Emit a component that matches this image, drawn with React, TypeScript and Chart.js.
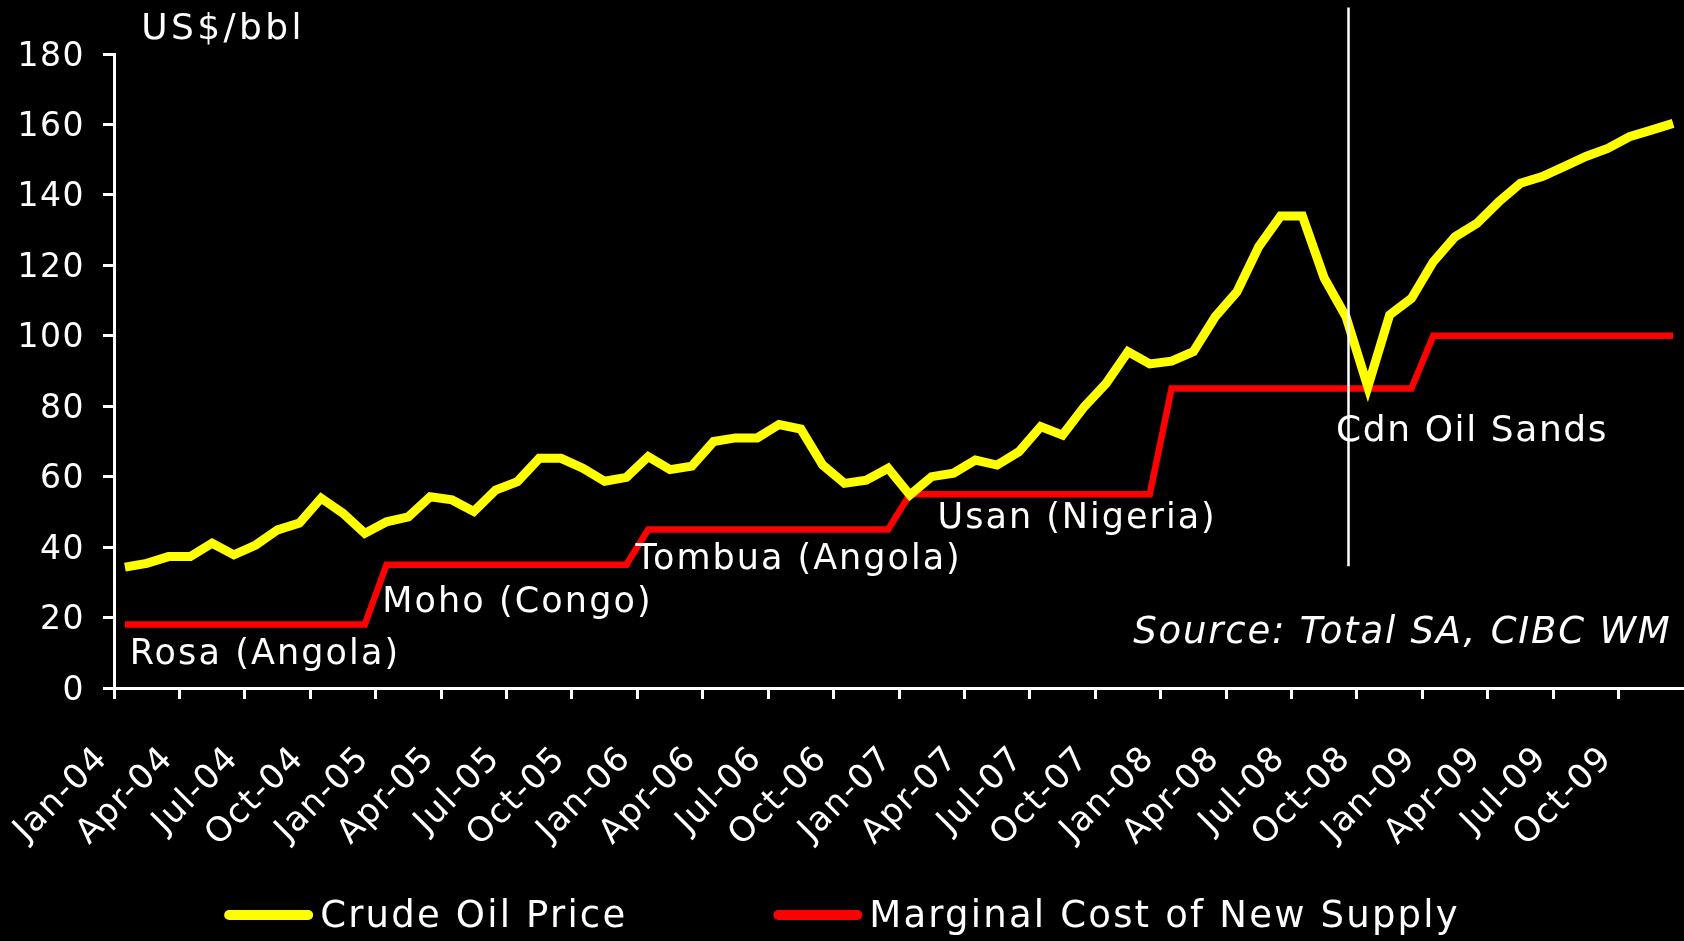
import React, { useEffect, useRef } from 'react';
import { Chart, registerables } from 'chart.js';

Chart.register(...registerables);

// ---- data ----
const years = ['04', '05', '06', '07', '08', '09'];
const monthNames = ['Jan', 'Feb', 'Mar', 'Apr', 'May', 'Jun', 'Jul', 'Aug', 'Sep', 'Oct', 'Nov', 'Dec'];
const months: string[] = years.flatMap((y) => monthNames.map((m) => `${m}-${y}`));
const labeledMonths = ['Jan', 'Apr', 'Jul', 'Oct'];

const crudeOilPrice = [
  34.3, 35.4, 37.3, 37.3, 41.1, 37.8, 40.6, 44.9, 46.8, 53.9, 49.6, 43.9,
  47.2, 48.6, 54.3, 53.4, 50.1, 56.2, 58.6, 65.2, 65.2, 62.4, 58.7, 59.8,
  65.7, 62.0, 63.0, 70.0, 71.0, 71.0, 74.8, 73.5, 63.3, 58.1, 59.0, 62.4,
  54.8, 60.0, 61.0, 64.7, 63.3, 67.1, 74.2, 71.8, 79.9, 86.5, 95.5, 92.0,
  92.8, 95.5, 105.4, 112.5, 125.3, 134.0, 134.0, 116.4, 105.4, 85.5, 105.9, 110.6,
  121.0, 128.1, 131.9, 138.0, 143.3, 145.2, 148.0, 150.9, 153.2, 156.5, 158.4, 160.3,
];

const marginalCost = [
  18, 18, 18, 18, 18, 18, 18, 18, 18, 18, 18, 18,
  35, 35, 35, 35, 35, 35, 35, 35, 35, 35, 35, 35,
  45, 45, 45, 45, 45, 45, 45, 45, 45, 45, 45, 45,
  55, 55, 55, 55, 55, 55, 55, 55, 55, 55, 55, 55,
  85, 85, 85, 85, 85, 85, 85, 85, 85, 85, 85, 85,
  100, 100, 100, 100, 100, 100, 100, 100, 100, 100, 100, 100,
];

const yMin = 0;
const yMax = 180;
const yStep = 20;

// ---- annotations anchored to data coordinates (month index, value) ----
type Note = { text: string; at: number; value: number; size: number; spacing: number; align: 'left' | 'right'; italic?: boolean };
const notes: Note[] = [
  { text: 'US$/bbl', at: 0.75, value: 187.0, size: 36, spacing: 3.4, align: 'left' },
  { text: 'Rosa (Angola)', at: 0.22, value: 9.3, size: 35, spacing: 2.1, align: 'left' },
  { text: 'Moho (Congo)', at: 11.8, value: 24.3, size: 35, spacing: 2.1, align: 'left' },
  { text: 'Tombua (Angola)', at: 23.42, value: 36.5, size: 35, spacing: 2.0, align: 'left' },
  { text: 'Usan (Nigeria)', at: 37.27, value: 48.1, size: 35, spacing: 2.0, align: 'left' },
  { text: 'Cdn Oil Sands', at: 55.54, value: 72.8, size: 36, spacing: 1.6, align: 'left' },
  { text: 'Source: Total SA, CIBC WM', at: 70.93, value: 15.4, size: 37, spacing: 1.8, align: 'right', italic: true },
];
const divider = { at: 56.1, from: 34.6, to: 193.2 };

const FONT = '"DejaVu Sans", "Liberation Sans", sans-serif';

const overlayPlugin = {
  id: 'overlay',
  beforeUpdate(chart: any) {
    chart.ctx.letterSpacing = '1.5px';
  },
  beforeDraw(chart: any) {
    chart.ctx.letterSpacing = '1.5px';
  },
  afterDraw(chart: any) {
    const { ctx, scales } = chart;
    const x = scales.x;
    const y = scales.y;
    ctx.save();

    // vertical divider line
    const dx = Math.round(x.getPixelForValue(divider.at)) + 0.5;
    ctx.strokeStyle = '#ffffff';
    ctx.lineWidth = 2.5;
    ctx.beginPath();
    ctx.moveTo(dx, y.getPixelForValue(divider.to));
    ctx.lineTo(dx, y.getPixelForValue(divider.from));
    ctx.stroke();

    // annotation texts
    ctx.fillStyle = '#ffffff';
    ctx.textBaseline = 'middle';
    for (const n of notes) {
      ctx.font = `${n.italic ? 'italic ' : ''}${n.size}px ${FONT}`;
      ctx.letterSpacing = `${n.spacing}px`;
      ctx.textAlign = n.align;
      ctx.fillText(n.text, x.getPixelForValue(n.at), y.getPixelForValue(n.value));
    }

    // legend (custom, bottom centered)
    const items = chart.data.datasets.map((d: any) => ({ label: d.label, color: d.borderColor }));
    const swatchW = 89;
    const swatchGap = 7;
    const itemGap = 146;
    const legendY = 917;
    ctx.font = `37px ${FONT}`;
    ctx.letterSpacing = '2.2px';
    ctx.textAlign = 'left';
    const widths = items.map((it: any) => ctx.measureText(it.label).width);
    const total = widths.reduce((a: number, b: number) => a + b, 0) + items.length * (swatchW + swatchGap) + (items.length - 1) * itemGap;
    let cx = (chart.width - total) / 2;
    items.forEach((it: any, i: number) => {
      ctx.strokeStyle = it.color;
      ctx.lineWidth = 10;
      ctx.lineCap = 'round';
      ctx.beginPath();
      ctx.moveTo(cx + 5, legendY - 2);
      ctx.lineTo(cx + swatchW - 5, legendY - 2);
      ctx.stroke();
      cx += swatchW + swatchGap;
      ctx.fillStyle = '#ffffff';
      ctx.fillText(it.label, cx, legendY);
      cx += widths[i] + itemGap;
    });

    ctx.restore();
  },
};

export default function App() {
  const canvasRef = useRef<HTMLCanvasElement>(null);

  useEffect(() => {
    document.body.style.background = '#000';
    const canvas = canvasRef.current;
    if (!canvas) return;
    const chart = new Chart(canvas, {
      type: 'line',
      data: {
        labels: months,
        datasets: [
          {
            label: 'Crude Oil Price',
            data: crudeOilPrice,
            borderColor: '#ffff00',
            backgroundColor: '#ffff00',
            borderWidth: 9,
            pointRadius: 0,
            pointHoverRadius: 0,
            tension: 0,
            fill: false,
          },
          {
            label: 'Marginal Cost of New Supply',
            data: marginalCost,
            borderColor: '#ff0000',
            backgroundColor: '#ff0000',
            borderWidth: 6.5,
            pointRadius: 0,
            pointHoverRadius: 0,
            tension: 0,
            fill: false,
          },
        ],
      },
      options: {
        animation: false,
        responsive: true,
        maintainAspectRatio: false,
        layout: { padding: { top: 54, left: 0, right: 0, bottom: 0 } },
        plugins: {
          legend: { display: false },
          tooltip: { enabled: false },
          title: { display: false },
        },
        scales: {
          x: {
            type: 'category',
            offset: true,
            grid: {
              display: true,
              offset: true,
              drawOnChartArea: false,
              drawTicks: true,
              tickLength: 11,
              tickWidth: 3,
              tickColor: (c: any) =>
                c.index !== undefined && c.index % 3 === 0 ? '#ffffff' : 'rgba(0,0,0,0)',
            },
            border: { display: true, color: '#ffffff', width: 3 },
            ticks: {
              autoSkip: false,
              minRotation: 45,
              maxRotation: 45,
              color: '#ffffff',
              padding: 40,
              labelOffset: -22,
              font: { family: FONT, size: 34 },
              callback: (_v: any, i: number) =>
                labeledMonths.includes(months[i].slice(0, 3)) ? months[i] : '',
            },
            afterFit: (s: any) => {
              s.height = 253;
              s.paddingLeft = 0;
              s.paddingRight = 0;
            },
          },
          y: {
            min: yMin,
            max: yMax,
            grid: {
              display: true,
              drawOnChartArea: false,
              drawTicks: true,
              tickLength: 11,
              tickWidth: 3,
              tickColor: '#ffffff',
            },
            border: { display: true, color: '#ffffff', width: 3 },
            ticks: {
              stepSize: yStep,
              color: '#ffffff',
              padding: 18,
              labelOffset: 3,
              font: { family: FONT, size: 33 },
            },
            afterFit: (s: any) => {
              s.width = 114;
              s.paddingTop = 0;
              s.paddingBottom = 0;
            },
          },
        },
      },
      plugins: [overlayPlugin],
    });
    return () => chart.destroy();
  }, []);

  return (
    <div style={{ position: 'fixed', left: 0, top: 0, width: 1684, height: 941, background: '#000' }}>
      <canvas ref={canvasRef} />
    </div>
  );
}
